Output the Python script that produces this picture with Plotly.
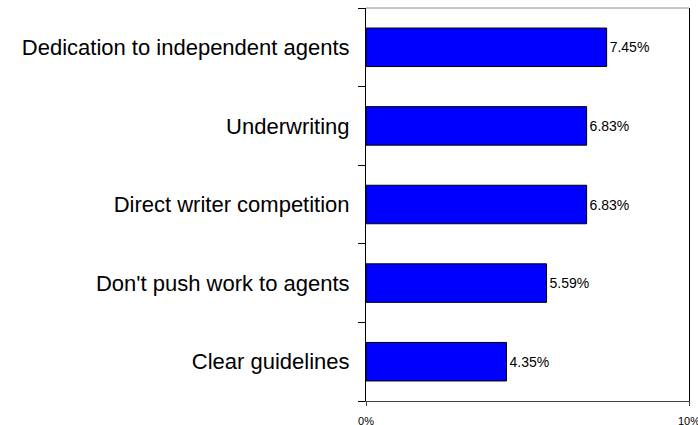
import plotly.graph_objects as go

# Survey reasons, listed bottom to top
categories = [
    "Clear guidelines",
    "Don't push work to agents",
    "Direct writer competition",
    "Underwriting",
    "Dedication to independent agents",
]
values = [4.35, 5.59, 6.83, 6.83, 7.45]
x_tick_vals = [0, 10]
x_tick_text = ["0%", "10%"]

fig = go.Figure(
    go.Bar(
        y=categories,
        x=values,
        orientation="h",
        marker=dict(color="#0000FF", line=dict(color="#000000", width=1)),
        text=[f"{v:.2f}%" for v in values],
        textposition="outside",
        textfont=dict(family="Liberation Sans, Arial, sans-serif", size=14, color="#000000"),
        cliponaxis=False,
        hoverinfo="skip",
    )
)

fig.update_layout(
    width=698,
    height=425,
    margin=dict(l=366, r=9, t=8, b=24),
    paper_bgcolor="#FFFFFF",
    plot_bgcolor="#FFFFFF",
    bargap=0.51,
    showlegend=False,
    font=dict(family="Liberation Sans, Arial, sans-serif", color="#000000"),
    xaxis=dict(
        range=[0, 10],
        tickvals=x_tick_vals,
        ticktext=x_tick_text,
        ticks="outside",
        ticklen=4,
        tickcolor="#404040",
        tickfont=dict(size=11),
        ticklabelstandoff=6,
        ticklabeloverflow="allow",
        automargin=False,
        showgrid=False,
        zeroline=False,
        showline=True,
        linecolor="#404040",
        linewidth=1,
        fixedrange=True,
    ),
    yaxis=dict(
        tickson="boundaries",
        ticks="outside",
        ticklen=7,
        tickcolor="#000000",
        tickfont=dict(size=22),
        ticklabelstandoff=11,
        automargin=False,
        showgrid=False,
        zeroline=False,
        showline=True,
        mirror=True,
        linecolor="#000000",
        linewidth=1,
        fixedrange=True,
    ),
    shapes=[
        dict(
            type="line", xref="paper", yref="paper",
            x0=0, x1=1, y0=1, y1=1,
            line=dict(color="#8C8C8C", width=1),
        )
    ],
)

fig.write_html("out.html")
